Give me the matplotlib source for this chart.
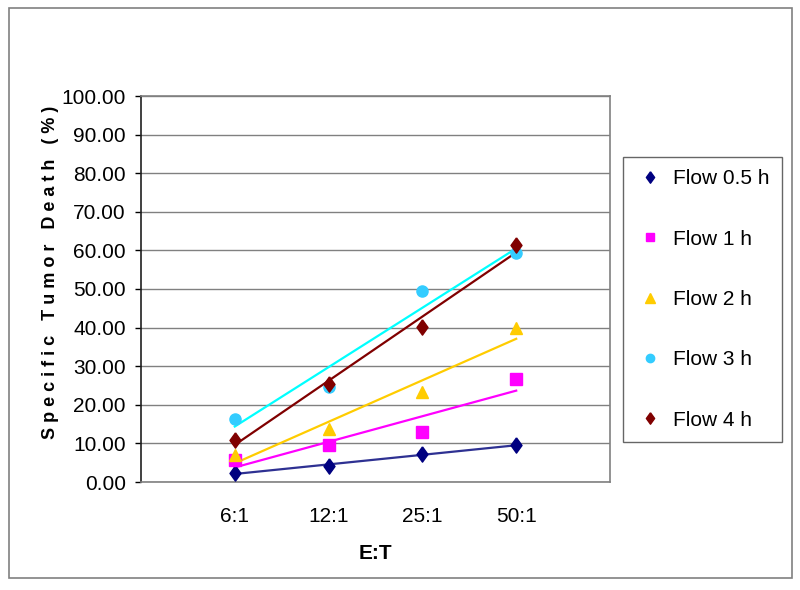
import numpy as np
import matplotlib
matplotlib.use('Agg')
import matplotlib.pyplot as plt
from matplotlib.patches import Rectangle

# data
ratios = ['6:1', '12:1', '25:1', '50:1']
flow_05 = [2.3, 4.1, 7.3, 9.5]
flow_1 = [5.6, 9.7, 13.0, 26.6]
flow_2 = [7.1, 13.8, 23.2, 39.8]
flow_3 = [16.4, 24.5, 49.6, 59.3]
flow_4 = [11.0, 25.5, 40.2, 61.5]

series_names = ['Flow 0.5 h', 'Flow 1 h', 'Flow 2 h', 'Flow 3 h', 'Flow 4 h']
series_vals = [flow_05, flow_1, flow_2, flow_3, flow_4]
marker_cols = ['#000080', '#FF00FF', '#FFCC00', '#33CCFF', '#800000']
line_cols = ['#2E3192', '#FF00FF', '#FFCC00', '#00FFFF', '#800000']

# excel style diamond, a bit taller than wide
diamond = [(0, 1), (0.72, 0), (0, -1), (-0.72, 0), (0, 1)]
markers = [diamond, 's', '^', 'o', diamond]
msizes = [11, 8, 9, 8, 11]

plt.rcParams['font.family'] = ['Liberation Sans', 'DejaVu Sans']

fig = plt.figure(figsize=(8, 5.9), dpi=100)
ax = fig.add_axes([141/800, 1-482/590, 469/800, 386/590])

x = np.arange(1, len(ratios)+1)
handles = []
for vals, name, mc, lc, mk, ms in zip(series_vals, series_names, marker_cols, line_cols, markers, msizes):
    # linear trendline like excel
    k, b = np.polyfit(x, vals, 1)
    ax.plot(x, k*x+b, color=lc, lw=1.6, zorder=3)
    h, = ax.plot(x, vals, ls='none', marker=mk, ms=ms, color=mc, mec=mc, label=name, zorder=4)
    handles.append(h)

ax.set_xlim(0, 5)
ax.set_ylim(0, 100)
ax.set_xticks(x)
ax.set_xticklabels(ratios)
ax.set_yticks(np.arange(0, 101, 10))
ax.set_yticklabels(['%.2f' % v for v in np.arange(0, 101, 10)])
ax.tick_params(axis='x', length=0, pad=18, labelsize=15)
ax.tick_params(axis='y', length=4, width=1, pad=7, labelsize=15, direction='out')
ax.grid(axis='y', color='#808080', lw=1)
ax.set_axisbelow(True)
for s in ['top', 'right', 'bottom']:
    ax.spines[s].set_color('#808080')
    ax.spines[s].set_linewidth(1.2)
ax.spines['left'].set_color('#202020')
ax.spines['left'].set_linewidth(1.2)

ax.set_xlabel('E:T', fontsize=15, fontweight='bold', labelpad=13)
fig.text(51/800, 1-272/590, ' '.join('Specific Tumor Death (%)'),
         rotation=90, ha='center', va='center', fontsize=13, fontweight='bold')

leg = fig.legend(handles=handles, loc='upper left', bbox_to_anchor=(623/800, 1-157/590),
                 frameon=True, fancybox=False, borderpad=0.6, handlelength=1.42,
                 handletextpad=0.4, labelspacing=1.98, fontsize=15, borderaxespad=0,
                 markerscale=0.75)
leg.get_frame().set_edgecolor('#404040')
leg.get_frame().set_linewidth(1.0)

# outer chart border
fig.patches.append(Rectangle((9/800, 1-578/590), 783/800, 570/590, transform=fig.transFigure,
                             fill=False, ec='#808080', lw=1.2))

fig.savefig('out.png', dpi=100)
